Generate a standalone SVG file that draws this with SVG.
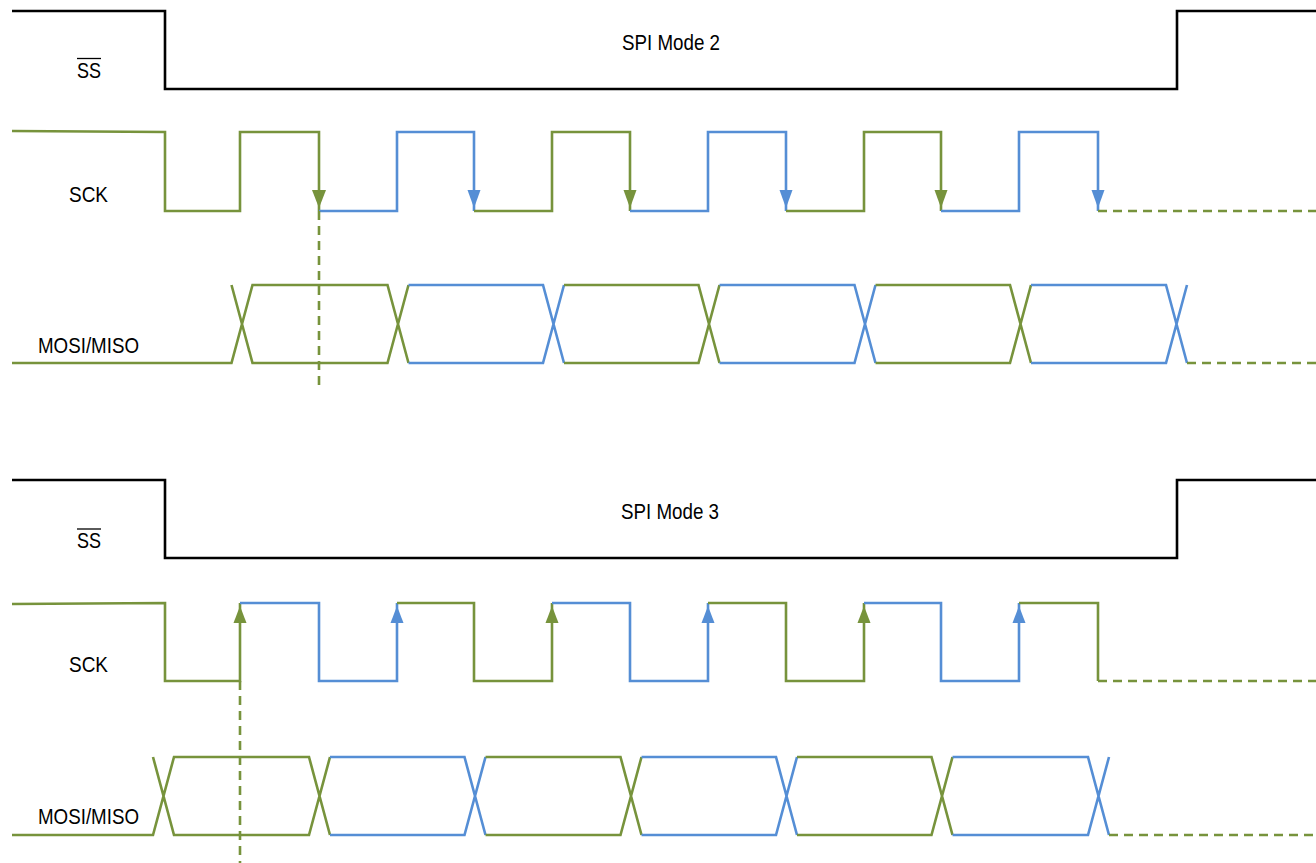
<svg xmlns="http://www.w3.org/2000/svg" width="1316" height="863" viewBox="0 0 1316 863">
<style>
.s{fill:none;stroke-width:2.6;stroke-linejoin:miter;stroke-linecap:butt}
.k{stroke:#000}
.g{stroke:#77933C}
.b{stroke:#558ED5}
.d{stroke-dasharray:9,6}
.ag{fill:#77933C}
.ab{fill:#558ED5}
.t{font-family:"Liberation Sans",Arial,sans-serif;font-size:22px;fill:#000;text-anchor:middle}
</style>
<rect width="1316" height="863" fill="#fff"/>

<!-- ===== SPI Mode 2 ===== -->
<g id="mode2-labels">
<text class="t" x="671" y="50" textLength="98" lengthAdjust="spacingAndGlyphs">SPI Mode 2</text>
<text class="t" x="89" y="78" textLength="24" lengthAdjust="spacingAndGlyphs">SS</text>
<line x1="77" y1="58.5" x2="101" y2="58.5" stroke="#000" stroke-width="1.3"/>
<text class="t" x="88.5" y="202" textLength="39" lengthAdjust="spacingAndGlyphs">SCK</text>
<text class="t" x="88.5" y="353" textLength="101" lengthAdjust="spacingAndGlyphs">MOSI/MISO</text>
</g>
<g id="mode2-ss">
<path class="s k" d="M12,11 L165,11 L165,89 L1177,89 L1177,11 L1316,11"/>
</g>
<g id="mode2-sck">
<path class="s g" d="M12,131 L165,132 L165,211 L240,211 L240,132 L319,132 L319,211"/>
<path class="s b" d="M319,211 L397,211 L397,132 L474,132 L474,211"/>
<path class="s g" d="M474,211 L552,211 L552,132 L630,132 L630,211"/>
<path class="s b" d="M630,211 L708,211 L708,132 L786,132 L786,211"/>
<path class="s g" d="M786,211 L864,211 L864,132 L941,132 L941,211"/>
<path class="s b" d="M941,211 L1019,211 L1019,132 L1098,132 L1098,211"/>
<path class="s g d" d="M1098,211 L1316,211"/>
<polygon class="ag" points="312,190 326,190 319,208"/>
<polygon class="ab" points="467.5,190 480.5,190 474,208"/>
<polygon class="ag" points="623.5,190 636.5,190 630,208"/>
<polygon class="ab" points="779.5,190 792.5,190 786,208"/>
<polygon class="ag" points="934.5,190 947.5,190 941,208"/>
<polygon class="ab" points="1091.5,190 1104.5,190 1098,208"/>
</g>
<g id="mode2-data">
<path class="s g" d="M12,363 L231.5,363 L252.5,285 L387.5,285 L408.5,363 M231.5,285 L252.5,363 L387.5,363 L408.5,285"/>
<path class="s b" d="M408.5,285 L543,285 L564,363 M408.5,363 L543,363 L564,285"/>
<path class="s g" d="M564,285 L698.5,285 L719.5,363 M564,363 L698.5,363 L719.5,285"/>
<path class="s b" d="M719.5,285 L854.5,285 L875.5,363 M719.5,363 L854.5,363 L875.5,285"/>
<path class="s g" d="M875.5,285 L1010,285 L1031,363 M875.5,363 L1010,363 L1031,285"/>
<path class="s b" d="M1031,285 L1166,285 L1187,363 M1031,363 L1166,363 L1187,285"/>
<path class="s g d" d="M1187,363 L1316,363"/>
</g>

<!-- ===== SPI Mode 3 ===== -->
<g id="mode3-labels">
<text class="t" x="670" y="519" textLength="98" lengthAdjust="spacingAndGlyphs">SPI Mode 3</text>
<text class="t" x="89" y="548" textLength="24" lengthAdjust="spacingAndGlyphs">SS</text>
<line x1="77" y1="529" x2="101" y2="529" stroke="#000" stroke-width="1.3"/>
<text class="t" x="88.5" y="672" textLength="39" lengthAdjust="spacingAndGlyphs">SCK</text>
<text class="t" x="88.5" y="824" textLength="101" lengthAdjust="spacingAndGlyphs">MOSI/MISO</text>
</g>
<g id="mode3-ss">
<path class="s k" d="M12,480 L165,480 L165,558 L1177,558 L1177,480 L1316,480"/>
</g>
<g id="mode3-sck">
<path class="s g" d="M12,604 L165,603 L165,681 L240,681 L240,603"/>
<path class="s b" d="M240,603 L319,603 L319,681 L397,681 L397,603"/>
<path class="s g" d="M397,603 L474,603 L474,681 L552,681 L552,603"/>
<path class="s b" d="M552,603 L630,603 L630,681 L708,681 L708,603"/>
<path class="s g" d="M708,603 L786,603 L786,681 L864,681 L864,603"/>
<path class="s b" d="M864,603 L941,603 L941,681 L1019,681 L1019,603"/>
<path class="s g" d="M1019,603 L1098,603 L1098,681"/>
<path class="s g d" d="M1098,681 L1316,681"/>
<polygon class="ag" points="233.5,623 246.5,623 240,606"/>
<polygon class="ab" points="390.5,623 403.5,623 397,606"/>
<polygon class="ag" points="545.5,623 558.5,623 552,606"/>
<polygon class="ab" points="701.5,623 714.5,623 708,606"/>
<polygon class="ag" points="857.5,623 870.5,623 864,606"/>
<polygon class="ab" points="1012.5,623 1025.5,623 1019,606"/>
</g>
<g id="mode3-data">
<path class="s g" d="M12,835 L153,835 L174,757 L309,757 L330,835 M153,757 L174,835 L309,835 L330,757"/>
<path class="s b" d="M330,757 L464.5,757 L485.5,835 M330,835 L464.5,835 L485.5,757"/>
<path class="s g" d="M485.5,757 L620.5,757 L641.5,835 M485.5,835 L620.5,835 L641.5,757"/>
<path class="s b" d="M641.5,757 L776,757 L797,835 M641.5,835 L776,835 L797,757"/>
<path class="s g" d="M797,757 L931.5,757 L952.5,835 M797,835 L931.5,835 L952.5,757"/>
<path class="s b" d="M952.5,757 L1088,757 L1109,835 M952.5,835 L1088,835 L1109,757"/>
<path class="s g d" d="M1109,835 L1316,835"/>
</g>

<g id="connectors">
<path class="s g d" d="M319,211 L319,388"/>
<path class="s g d" d="M240,681 L240,863"/>
</g>
</svg>
